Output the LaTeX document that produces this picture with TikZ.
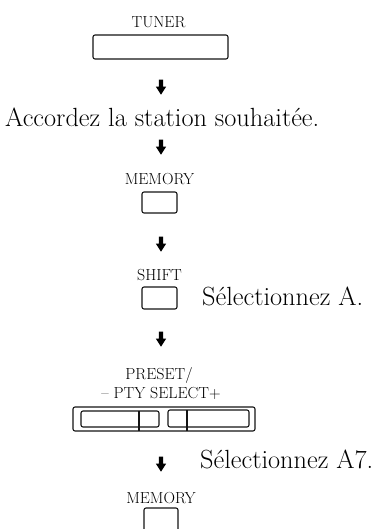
\documentclass[tikz,border=0pt]{standalone}
\usepackage{tikz}
\usetikzlibrary{arrows.meta,shapes.arrows,positioning}
\definecolor{keyline}{RGB}{20,20,20}

\begin{document}
\begin{tikzpicture}[x=1pt,y=-1pt,
  keybox/.style={draw=keyline,line width=1.1pt,rounded corners=2pt},
  keyname/.style={font=\fontsize{16}{18}\selectfont,inner sep=0pt,anchor=base},
  steptext/.style={font=\fontsize{26.3}{30}\selectfont,inner sep=0pt,anchor=base west},
  downarrow/.style={single arrow,fill=black,draw=none,shape border rotate=270,
    inner sep=2pt,minimum height=15pt,single arrow head extend=3pt,
    single arrow tip angle=65}]
  \useasboundingbox (0,0) rectangle (376,529);
  % TUNER
  \node[keyname] (tunername) at (158.5,28) {TUNER};
  \draw[keybox] (93,35) rectangle (228,59);
  \node[downarrow] (arrA) at (161,85.5) {};
  \node[steptext] (tune) at (5,127) {Accordez la station souhaitée.};
  \node[downarrow] (arrB) at (161,145.5) {};
  % MEMORY
  \node[keyname] (memname) at (159.5,185) {MEMORY};
  \draw[keybox] (142,192) rectangle (177,213);
  \node[downarrow] (arrC) at (161,242.5) {};
  % SHIFT
  \node[keyname] (shiftname) at (159.5,280) {SHIFT};
  \draw[keybox] (142,287) rectangle (177,309);
  \node[steptext] (selA) at (202,305) {Sélectionnez A.};
  \node[downarrow] (arrD) at (161,337.5) {};
  % PRESET / PTY SELECT
  \node[keyname] (presetname) at (159,379) {PRESET/};
  \node[keyname] (ptyname) at (161,398) {-- PTY SELECT+};
  \draw[keybox] (73,407) rectangle (255,431);
  \draw[keybox] (81,411) rectangle (159,427);
  \draw[keybox] (168,410) rectangle (249,427);
  \draw[keyline,line width=1.1pt] (139,411) -- (139,431);
  \draw[keyline,line width=1.1pt] (187,410) -- (187,431);
  \node[downarrow] (arrE) at (161,462.5) {};
  \node[steptext] (selA7) at (200,468) {Sélectionnez A7.};
  % MEMORY
  \node[keyname] (memnameB) at (161,503) {MEMORY};
  \draw[keybox] (144,508) rectangle (178,536);
\end{tikzpicture}
\end{document}
